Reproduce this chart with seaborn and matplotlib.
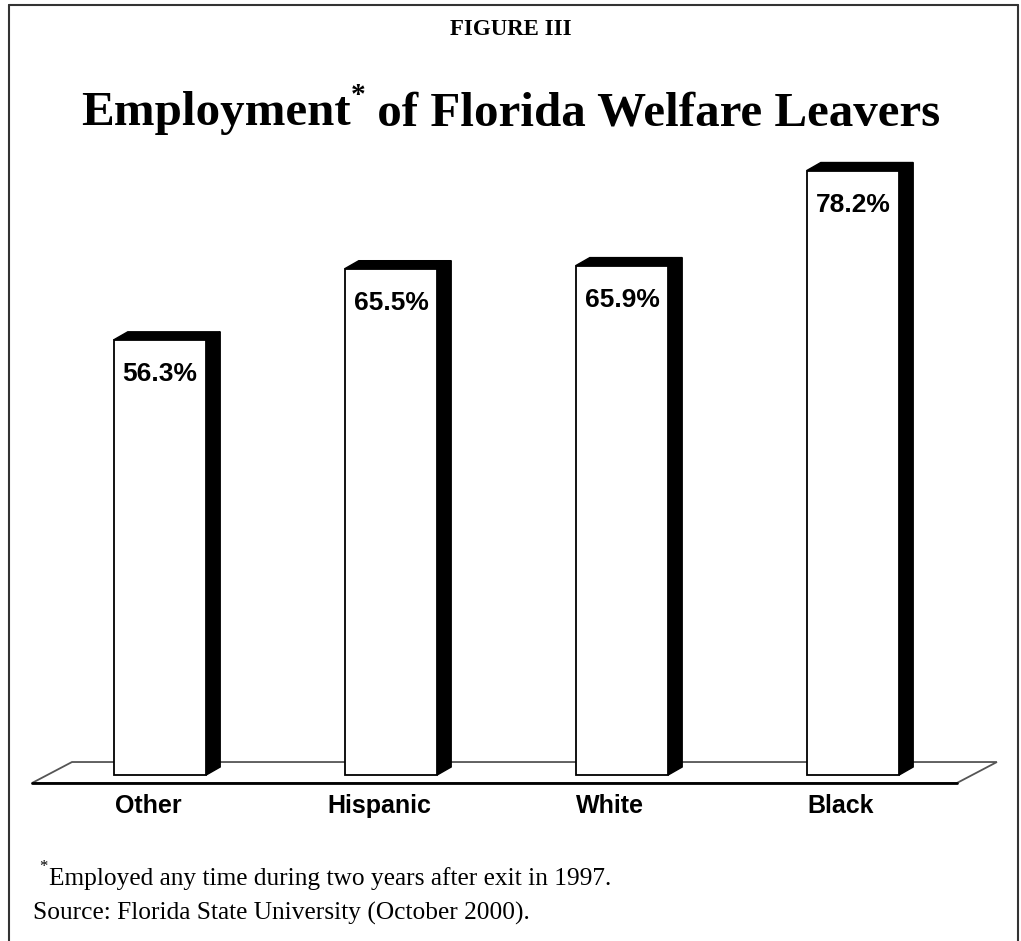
import matplotlib
matplotlib.use("Agg")
import matplotlib.pyplot as plt
from matplotlib.patches import Polygon
from matplotlib.lines import Line2D
import seaborn as sns

categories = ["Other", "Hispanic", "White", "Black"]
values = [56.3, 65.5, 65.9, 78.2]
value_labels = ["56.3%", "65.5%", "65.9%", "78.2%"]
fig_label = "FIGURE III"
title_main = "Employment"
title_rest = " of Florida Welfare Leavers"
footnote = "Employed any time during two years after exit in 1997."
source = "Source: Florida State University (October 2000)."

sns.set_theme(style="white")
plt.rcParams["text.color"] = "black"
W, H = 1021, 941
fig = plt.figure(figsize=(W / 100, H / 100), dpi=100)
ax = fig.add_axes([0, 0, 1, 1])

sns.barplot(x=categories, y=values, color="white", edgecolor="black",
            linewidth=1.3, width=0.4, saturation=1, ax=ax, zorder=3)

# scale: category spacing 231 px, 7.73 px per percent, zero at y=775 px
XS, YS, X0, Y0 = 231.0, 7.73, 160.0, 775.0
ax.set_xlim(-X0 / XS, (W - X0) / XS)
ax.set_ylim((Y0 - H) / YS, Y0 / YS)
ax.axis("off")

def fx(px):
    return px / W

def fy(py):
    return 1 - py / H

DX, DY = 14 / XS, 8 / YS

# floor
fl = [(-0.554, -1.035), (-0.381, 1.68), (3.623, 1.68), (3.45, -1.035)]
ax.add_patch(Polygon(fl, closed=True, facecolor="white", edgecolor="#555555",
                     linewidth=1.3, zorder=1))
ax.add_line(Line2D([fl[0][0], fl[3][0]], [fl[0][1], fl[3][1]], color="black",
                   linewidth=2, zorder=2))

for i, p in enumerate(ax.patches[:len(values)]):
    x0 = p.get_x()
    w = p.get_width()
    h = p.get_height()
    x1 = x0 + w
    top = [(x0, h), (x0 + DX, h + DY), (x1 + DX, h + DY), (x1, h)]
    side = [(x1, 0), (x1 + DX, DY), (x1 + DX, h + DY), (x1, h)]
    ax.add_patch(Polygon(top, closed=True, facecolor="black", edgecolor="black",
                         linewidth=1, zorder=2.5))
    ax.add_patch(Polygon(side, closed=True, facecolor="black", edgecolor="black",
                         linewidth=1, zorder=2.5))
    ax.text(x0 + w / 2, h - 34 / YS, value_labels[i], ha="center", va="center",
            fontsize=19, fontweight="bold", family="Liberation Sans",
            color="black", zorder=5)
    ax.text(x0 + w / 2 - 12 / XS, (Y0 - 806) / YS, categories[i], ha="center",
            va="center", fontsize=18, fontweight="bold",
            family="Liberation Sans", color="black", zorder=5)

# frame
frame_kw = dict(color="#333333", linewidth=1.5, transform=fig.transFigure)
fig.add_artist(Line2D([fx(9), fx(9)], [fy(5), fy(945)], **frame_kw))
fig.add_artist(Line2D([fx(9), fx(1018)], [fy(5), fy(5)], **frame_kw))
fig.add_artist(Line2D([fx(1018), fx(1018)], [fy(5), fy(945)], **frame_kw))

serif = "Liberation Serif"
fig.text(fx(511), fy(35), fig_label, ha="center", va="baseline",
         fontsize=16.5, fontweight="bold", family=serif)

# title with superscript asterisk
renderer = fig.canvas.get_renderer()
tsize = 35.3
t1 = fig.text(0, fy(125), title_main, ha="left", va="baseline",
              fontsize=tsize, fontweight="bold", family=serif)
t2 = fig.text(0, fy(103), "*", ha="left", va="baseline",
              fontsize=tsize * 0.6, fontweight="bold", family=serif)
t3 = fig.text(0, fy(125), title_rest, ha="left", va="baseline",
              fontsize=tsize, fontweight="bold", family=serif)
w1 = t1.get_window_extent(renderer).width
w2 = t2.get_window_extent(renderer).width
w3 = t3.get_window_extent(renderer).width
start = (W - (w1 + w2 + w3)) / 2
t1.set_x(fx(start))
t2.set_x(fx(start + w1))
t3.set_x(fx(start + w1 + w2))

# footnotes
fig.text(fx(39), fy(871), "*", ha="left", va="baseline", fontsize=12, family=serif)
fig.text(fx(49), fy(885), footnote, ha="left", va="baseline", fontsize=18.3, family=serif)
fig.text(fx(33), fy(920), source, ha="left", va="baseline", fontsize=18.3, family=serif)

fig.savefig("out.png", dpi=100, facecolor="white")
